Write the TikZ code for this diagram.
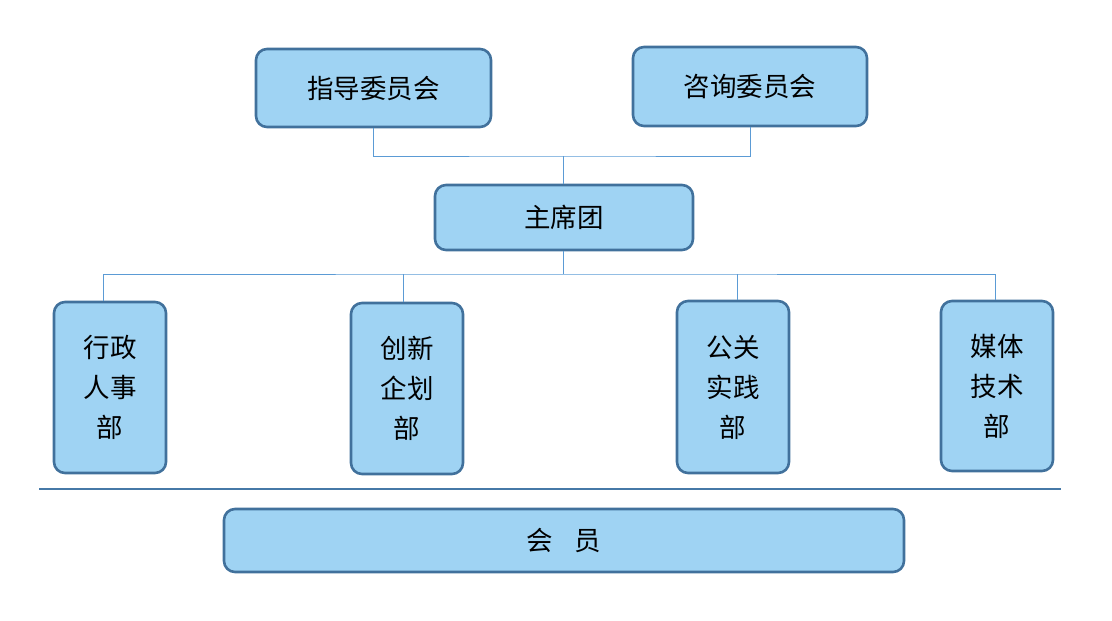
\documentclass[tikz,border=0pt]{standalone}
\usepackage{fontspec}
\setmainfont{Noto Sans CJK SC}
\begin{document}
\begin{tikzpicture}[x=1pt, y=-1pt,
    box/.style={draw=boxline, fill=boxfill, line width=2.6pt, rounded corners=11pt,
      inner sep=0pt, align=center, font=\fontsize{26.5}{40}\selectfont},
    link/.style={draw=linkblue, line width=1pt}]
  \definecolor{boxfill}{HTML}{9FD3F3}
  \definecolor{boxline}{HTML}{41719C}
  \definecolor{linkblue}{HTML}{5B9BD5}
  \useasboundingbox (0, 0) rectangle (1112, 621);
  % top
  \node[box, minimum width=235pt, minimum height=78pt] (guide) at (373.5, 88) {指导委员会};
  \node[box, minimum width=234pt, minimum height=79pt] (advise) at (750, 86.5) {咨询委员会};
  \node[box, minimum width=258pt, minimum height=65pt] (chair) at (564, 217.5) {主席团};
  % departments
  \node[box, minimum width=112pt, minimum height=171pt] (admin) at (110, 387.5) {行政\\人事\\部};
  \node[box, minimum width=112pt, minimum height=171pt] (plan) at (407, 388.5) {创新\\企划\\部};
  \node[box, minimum width=112pt, minimum height=172pt] (public) at (733, 387) {公关\\实践\\部};
  \node[box, minimum width=112pt, minimum height=170pt] (media) at (997, 386) {媒体\\技术\\部};
  \node[box, minimum width=680pt, minimum height=63pt] (member) at (564, 540.5) {会\hspace{22pt}员};
  % links
  \coordinate (top) at (563, 156);
  \coordinate (mid) at (563, 274);
  \draw[link] (guide.south) |- (top) -| (advise.south);
  \draw[link] (top) -- (chair.north -| top);
  \draw[link] (chair.south -| mid) -- (mid);
  \draw[link] ([xshift=-7pt]admin.north) |- (mid) -| ([xshift=-2pt]media.north);
  \draw[link] ([xshift=-4pt]plan.north) -- ([xshift=-4pt]plan.north |- mid);
  \draw[link] ([xshift=4pt]public.north) -- ([xshift=4pt]public.north |- mid);
  \draw[draw=boxline!80!linkblue, line width=2pt] (39, 489) -- (1061, 489);
\end{tikzpicture}
\end{document}
